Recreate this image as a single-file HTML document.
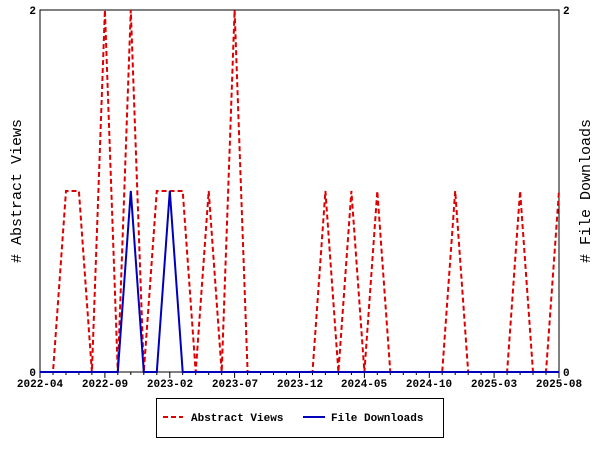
<!DOCTYPE html>
<html><head><style>body{margin:0;background:#fff}svg{display:block}text{font-family:"Liberation Mono",monospace;font-size:11px;font-weight:bold}</style></head>
<body><svg width="600" height="450" viewBox="0 0 600 450">
<rect x="40" y="10" width="519" height="362" fill="#fff" stroke="#000" stroke-width="1"/>
<g id="ticks" stroke="#000" stroke-width="1"></g>
<polyline id="av" fill="none" stroke="#d00" stroke-width="2" stroke-dasharray="5,3"/>
<polyline id="fd" fill="none" stroke="#00b" stroke-width="2"/>
<g text-anchor="middle">
<text x="40" y="387">2022-04</text><text x="105" y="387">2022-09</text><text x="170" y="387">2023-02</text><text x="235" y="387">2023-07</text><text x="300" y="387">2023-12</text><text x="364" y="387">2024-05</text><text x="429" y="387">2024-10</text><text x="494" y="387">2025-03</text><text x="559" y="387">2025-08</text>
</g>
<text x="36" y="376" text-anchor="end">0</text><text x="36" y="14" text-anchor="end">2</text>
<text x="563" y="376">0</text><text x="563" y="14">2</text>
<text transform="translate(21,191) rotate(-90)" text-anchor="middle" style="font-size:15px;font-weight:normal">#  Abstract Views</text>
<text transform="translate(590,191) rotate(-90)" text-anchor="middle" style="font-size:15px;font-weight:normal">#  File Downloads</text>
<rect x="156.5" y="398.5" width="287" height="39" fill="#fff" stroke="#000"/>
<line x1="163" y1="417" x2="183" y2="417" stroke="#d00" stroke-width="2" stroke-dasharray="5,3"/>
<text x="191" y="421">Abstract Views</text>
<line x1="303" y1="417" x2="325" y2="417" stroke="#00b" stroke-width="2"/>
<text x="331" y="421">File Downloads</text>
</svg>
<script>
var av=[0,0,1,1,0,2,0,2,0,1,1,1,0,1,0,2,0,0,0,0,0,0,1,0,1,0,1,0,0,0,0,0,1,0,0,0,0,1,0,0,1];
var fd=av.map(function(_,i){return (i==7||i==10)?1:0;});
function pts(a){return a.map(function(v,i){return (40+12.975*i).toFixed(1)+","+(372-181*v);}).join(" ");}
document.getElementById("av").setAttribute("points",pts(av));
document.getElementById("fd").setAttribute("points",pts(fd));
var g=document.getElementById("ticks"),s="";
for(var i=0;i<=40;i++){var x=(40+12.975*i).toFixed(1);var l=i%5==0?6:3;s+='<line x1="'+x+'" y1="372" x2="'+x+'" y2="'+(372+l)+'"/>';}
g.innerHTML=s;
</script>
</body></html>
